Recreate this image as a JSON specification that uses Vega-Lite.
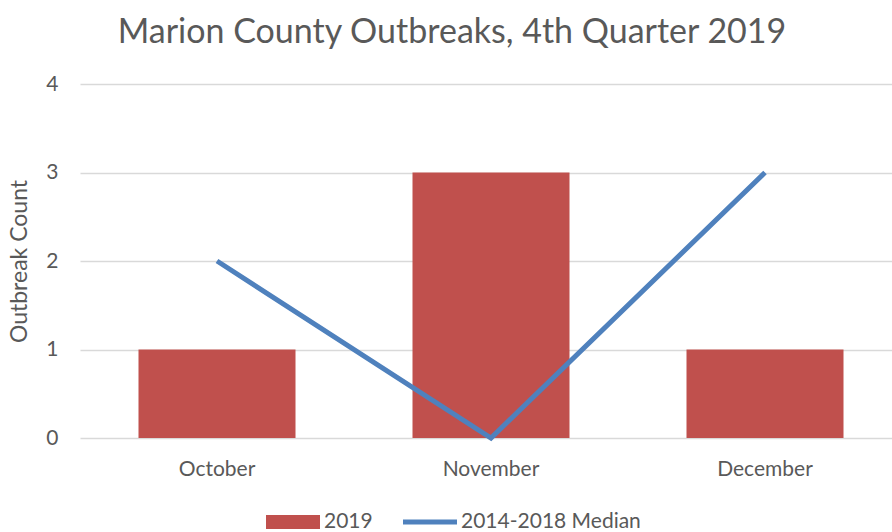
{
  "$schema": "https://vega.github.io/schema/vega-lite/v6.json",
  "autosize": "none",
  "width": 812,
  "height": 354,
  "padding": {"left": 80, "top": 84, "right": 0, "bottom": 94},
  "background": "white",
  "config": {
    "font": "Lato",
    "view": {"stroke": null}
  },
  "title": {
    "text": "Marion County Outbreaks, 4th Quarter 2019",
    "fontSize": 34,
    "font": "Lato",
    "fontWeight": "normal",
    "color": "#595959",
    "anchor": "middle",
    "dx": -34,
    "offset": 23
  },
  "data": {
    "values": [
      {"month": "October", "y2019": 1, "median": 2},
      {"month": "November", "y2019": 3, "median": 0},
      {"month": "December", "y2019": 1, "median": 3}
    ]
  },
  "encoding": {
    "x": {
      "field": "month",
      "type": "nominal",
      "sort": null,
      "scale": {"paddingInner": 0.427, "paddingOuter": 0.2135, "range": [0, 822]},
      "axis": {
        "title": null,
        "labelAngle": 0,
        "labelFontSize": 21,
        "labelColor": "#595959",
        "labelPadding": 20,
        "ticks": false,
        "domain": false
      }
    }
  },
  "layer": [
    {
      "mark": {"type": "bar", "color": "#C0504D"},
      "encoding": {
        "y": {
          "field": "y2019",
          "type": "quantitative",
          "scale": {"domain": [0, 4]},
          "axis": {
            "title": "Outbreak Count",
            "titleFontSize": 23,
            "titleFontWeight": "normal",
            "titleColor": "#595959",
            "titlePadding": 14,
            "values": [0, 1, 2, 3, 4],
            "format": "d",
            "labelFontSize": 21,
            "labelColor": "#595959",
            "labelPadding": 22,
            "ticks": false,
            "domain": false,
            "grid": true,
            "gridColor": "#D9D9D9",
            "gridWidth": 1.5
          }
        },
        "color": {
          "datum": "2019",
          "type": "nominal",
          "scale": {"domain": ["2019", "2014-2018 Median"], "range": ["#C0504D", "#4F81BD"]},
          "legend": {
            "title": null,
            "orient": "none",
            "direction": "horizontal",
            "legendX": 186,
            "legendY": 411,
            "labelFontSize": 21,
            "labelLimit": 300,
            "labelColor": "#595959",
            "labelOffset": 4,
            "columnPadding": 30,
            "symbolSize": 2916,
            "symbolStrokeWidth": 0,
            "encode": {
              "symbols": {
                "update": {
                  "shape": {"signal": "datum.value === '2019' ? 'M-1,-0.26H1V0.26H-1Z' : 'M-1,-0.09H1V0.09H-1Z'"},
                  "strokeWidth": {"value": 0}
                }
              }
            }
          }
        }
      }
    },
    {
      "mark": {"type": "line", "strokeWidth": 5, "strokeCap": "butt"},
      "encoding": {
        "y": {"field": "median", "type": "quantitative"},
        "color": {"datum": "2014-2018 Median", "type": "nominal"}
      }
    }
  ]
}
